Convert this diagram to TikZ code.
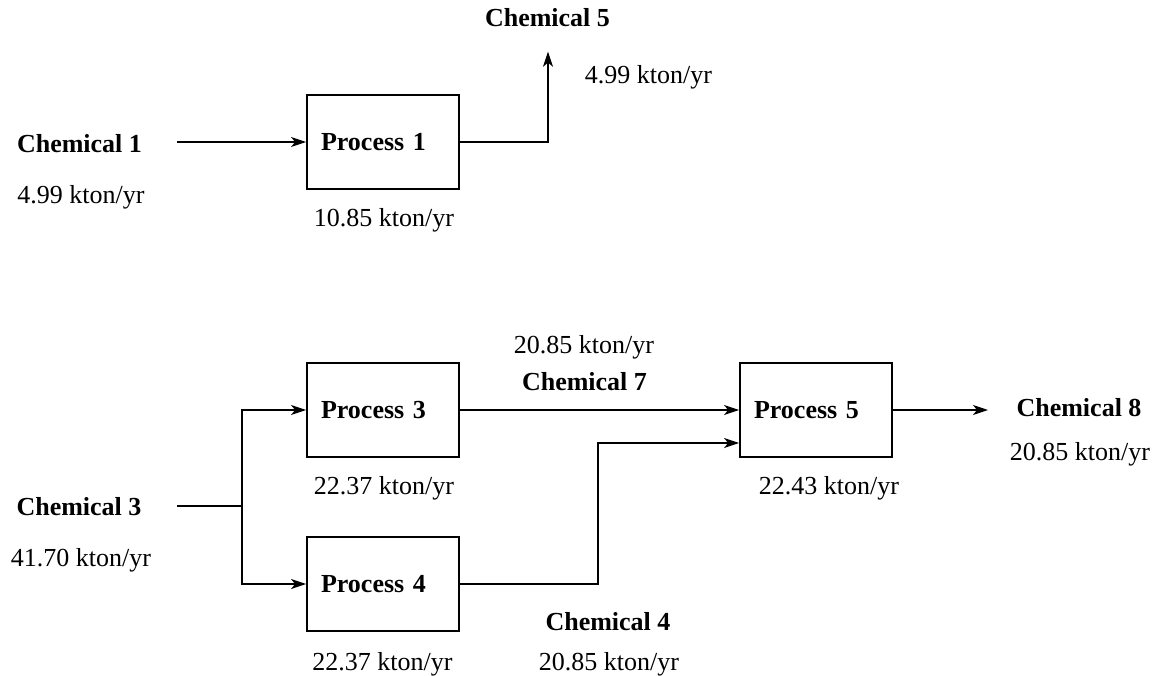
\documentclass[tikz,border=0pt]{standalone}
\usepackage{fontspec}
\setmainfont{Liberation Serif}
\usetikzlibrary{arrows.meta}
\begin{document}
\begin{tikzpicture}[x=1pt,y=-1pt,
  lbl/.style={inner sep=0pt, anchor=base, font=\fontsize{26}{30}\selectfont},
  blbl/.style={inner sep=0pt, anchor=base, font=\fontsize{26}{30}\selectfont\bfseries},
  procbox/.style={draw, line width=1.8pt, minimum width=152pt, minimum height=94pt,
    text width=124pt, inner xsep=14pt, align=left, font=\fontsize{26}{30}\selectfont\bfseries},
  flow/.style={line width=1.6pt},
  arr/.style={flow, -{Stealth[length=15pt,width=10pt,inset=4pt]}}]
\useasboundingbox (0,0) rectangle (1159,675);
% boxes
\node[procbox] (P1) at (383,142) {Process 1};
\node[procbox] (P3) at (383,410) {Process 3};
\node[procbox] (P4) at (383,584) {Process 4};
\node[procbox] (P5) at (816,410) {Process 5};
% labels
\node[blbl] (c5) at (547.5,26.7) {Chemical 5};
\node[lbl] (c5f) at (648.5,83.3) {4.99 kton/yr};
\node[blbl] (c1) at (79.5,152) {Chemical 1};
\node[lbl] (c1f) at (81,203) {4.99 kton/yr};
\node[lbl] (p1f) at (384,226.7) {10.85 kton/yr};
\node[lbl] (c7f) at (584,353) {20.85 kton/yr};
\node[blbl] (c7) at (584.5,390) {Chemical 7};
\node[lbl] (p3f) at (384,494) {22.37 kton/yr};
\node[blbl] (c3) at (79,515) {Chemical 3};
\node[lbl] (c3f) at (81,566) {41.70 kton/yr};
\node[blbl] (c4) at (608,630.7) {Chemical 4};
\node[lbl] (p4f) at (382.5,670.7) {22.37 kton/yr};
\node[lbl] (c4f) at (609,670.7) {20.85 kton/yr};
\node[lbl] (p5f) at (829,494) {22.43 kton/yr};
\node[blbl] (c8) at (1079,416.7) {Chemical 8};
\node[lbl] (c8f) at (1080,460) {20.85 kton/yr};
% coordinates
\coordinate (in1) at (177,142);
\coordinate (out1) at (548,51.7);
\coordinate (in3) at (177,506);
\coordinate (br) at (242,506);
\coordinate (c4turn) at (598,443);
\coordinate (out5) at (988,410);
% connectors
\draw[arr] (in1) -- (P1.west);
\draw[arr] (P1.east) -| (out1);
\draw[flow] (in3) -- (br);
\draw[arr] (br) |- (P3.west);
\draw[arr] (br) |- (P4.west);
\draw[arr] (P3.east) -- (P5.west);
\draw[arr] (P4.east) -| (c4turn) -- (c4turn -| P5.west);
\draw[arr] (P5.east) -- (out5);
\end{tikzpicture}
\end{document}
